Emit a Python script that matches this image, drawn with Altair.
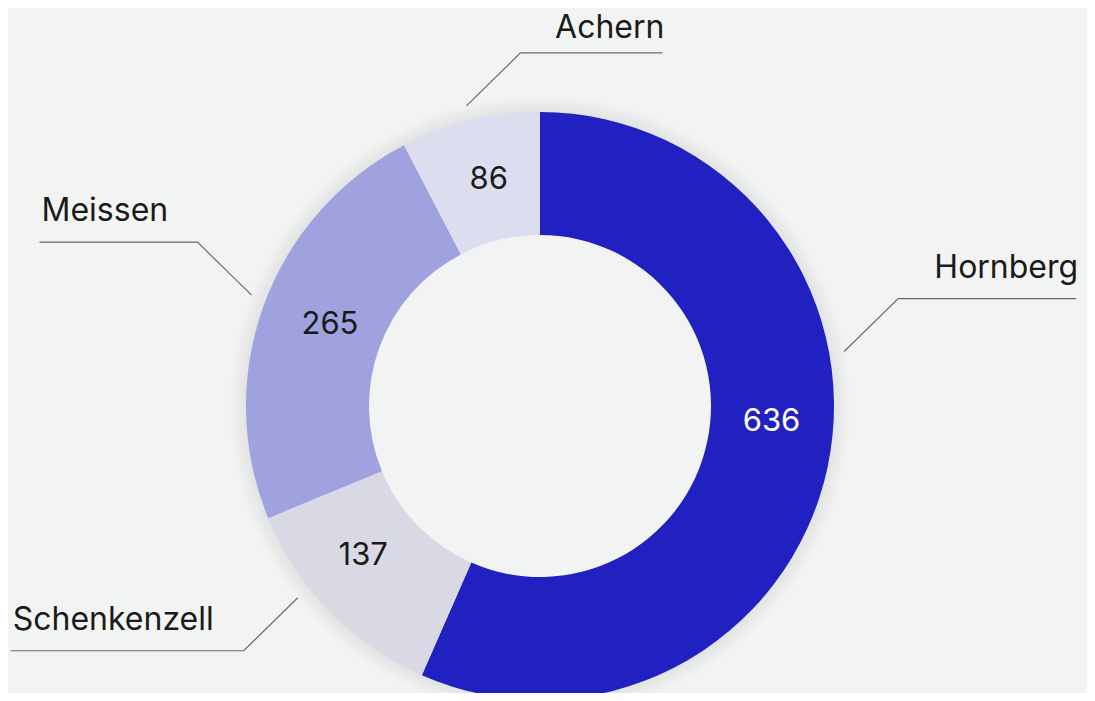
import math
import altair as alt
import pandas as pd

# ---- data ----
CATEGORIES = ["Hornberg", "Schenkenzell", "Meissen", "Achern"]
VALUES = [636, 137, 265, 86]
COLORS = ["#2121c2", "#d8d9e5", "#a0a2e0", "#dcddee"]
VALUE_TEXT_COLORS = ["#ffffff", "#1a1a1a", "#1a1a1a", "#1a1a1a"]

# ---- layout ----
W, H = 1079, 685
CX, CY = 532, 398
R_IN, R_OUT = 171, 294
R_ANCHOR = 309
VALUE_RADIUS = [232, 232, 225, 232]
LABEL_ANGLE_SHIFT = [-22, 6, 1, 0]      # leader anchor deviation from slice middle (deg)
VALUE_ANGLE_SHIFT = [-8, 4, 1, 1]       # value label deviation from slice middle (deg)
LEADER_DIR = [(1, -1), (-1, 1), (-1, -1), (1, -1)]
LEADER_LEN = [178, 233, 158, 142]
LABEL_GAP = [21, 21, 21, 15]            # baseline distance above the leader's horizontal part
DIAG_X, DIAG_Y = 54, 53
FONT = "Inter"

total = sum(VALUES)
mids = []
acc = 0
for v in VALUES:
    mids.append((acc + v / 2) / total * 360)
    acc += v

df = pd.DataFrame({"category": CATEGORIES, "value": VALUES, "idx": range(len(VALUES))})

# leader lines + labels
line_rows, label_rows, value_rows = [], [], []
for i, cat in enumerate(CATEGORIES):
    a = math.radians(mids[i] + LABEL_ANGLE_SHIFT[i])
    sx = CX + R_ANCHOR * math.sin(a)
    sy = CY - R_ANCHOR * math.cos(a)
    dx, dy = LEADER_DIR[i]
    ex, ey = sx + dx * DIAG_X, sy + dy * DIAG_Y
    fx, fy = ex + dx * LEADER_LEN[i], ey
    for k, (px, py) in enumerate([(sx, sy), (ex, ey), (fx, fy)]):
        line_rows.append({"category": cat, "pt": k, "x": px, "y": py})
    label_rows.append({"category": cat, "x": fx + 2, "y": fy - LABEL_GAP[i],
                       "align": "right" if dx > 0 else "left"})
    b = math.radians(mids[i] + VALUE_ANGLE_SHIFT[i])
    rv = VALUE_RADIUS[i]
    value_rows.append({"category": cat, "text": str(VALUES[i]),
                       "x": CX + rv * math.sin(b), "y": CY - rv * math.cos(b),
                       "tcolor": VALUE_TEXT_COLORS[i]})

lines_df = pd.DataFrame(line_rows)
labels_df = pd.DataFrame(label_rows)
values_df = pd.DataFrame(value_rows)

xs = alt.Scale(domain=[0, W], nice=False, zero=False)
ys = alt.Scale(domain=[0, H], nice=False, zero=False, reverse=True)

# soft shadow around the ring
shadow_layers = []
for k in range(1, 9):
    shadow_layers.append(
        alt.Chart(df.head(1)).mark_arc(
            innerRadius=R_OUT - 20, outerRadius=R_OUT + 2 * k,
            theta=0, theta2=2 * math.pi, color="#000000", opacity=0.009
        ).encode(x=alt.value(CX), y=alt.value(CY))
    )

arcs = alt.Chart(df).mark_arc(innerRadius=R_IN, outerRadius=R_OUT).encode(
    theta=alt.Theta("value:Q", stack=True),
    color=alt.Color("category:N", scale=alt.Scale(domain=CATEGORIES, range=COLORS), legend=None),
    order=alt.Order("idx:Q"),
    x=alt.value(CX),
    y=alt.value(CY),
)

leaders = alt.Chart(lines_df).mark_line(color="#6a6a6a", strokeWidth=1.2).encode(
    x=alt.X("x:Q", scale=xs, axis=None),
    y=alt.Y("y:Q", scale=ys, axis=None),
    detail="category:N",
    order="pt:Q",
)

right_labels = alt.Chart(labels_df[labels_df["align"] == "right"]).mark_text(
    font=FONT, fontSize=32, color="#1a1a1a", align="right", baseline="alphabetic"
).encode(x=alt.X("x:Q", scale=xs, axis=None), y=alt.Y("y:Q", scale=ys, axis=None), text="category:N")

left_labels = alt.Chart(labels_df[labels_df["align"] == "left"]).mark_text(
    font=FONT, fontSize=32, color="#1a1a1a", align="left", baseline="alphabetic"
).encode(x=alt.X("x:Q", scale=xs, axis=None), y=alt.Y("y:Q", scale=ys, axis=None), text="category:N")

value_labels = alt.Chart(values_df).mark_text(
    font=FONT, fontSize=31, align="center", baseline="middle"
).encode(
    x=alt.X("x:Q", scale=xs, axis=None),
    y=alt.Y("y:Q", scale=ys, axis=None),
    text="text:N",
    color=alt.Color("tcolor:N", scale=None),
)

chart = alt.layer(*shadow_layers, arcs, leaders, right_labels, left_labels, value_labels).properties(
    width=W, height=H, padding=0, background="#f2f4f3",
    autosize=alt.AutoSizeParams(type="none"),
).configure_view(stroke=None)

chart.save("out.html", embed_options={"renderer": "svg", "actions": False})
